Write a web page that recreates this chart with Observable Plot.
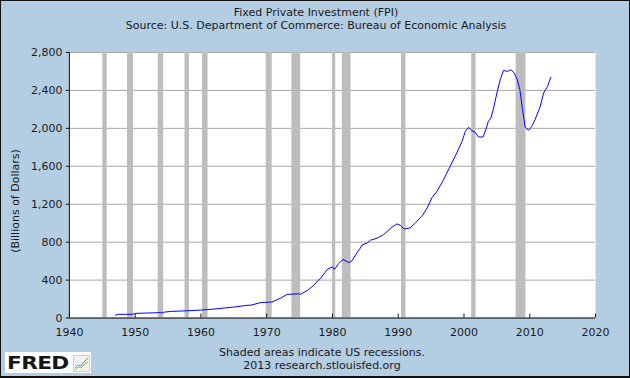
<!DOCTYPE html>
<html>
<head>
<meta charset="utf-8">
<script src="https://cdn.jsdelivr.net/npm/d3@7"></script>
<script src="https://cdn.jsdelivr.net/npm/@observablehq/plot@0.6"></script>
<style>
  html, body { margin: 0; padding: 0; }
  body { width: 630px; height: 378px; overflow: hidden; }
  #wrap { position: relative; width: 630px; height: 378px; box-sizing: border-box;
          background: #b3cde3; border: 1px solid #111; border-bottom-width: 2px;
          font-family: "DejaVu Sans", Verdana, sans-serif; color: #1a1a1a; }
  .t { position: absolute; font-size: 11px; white-space: nowrap; }
  #chart { position: absolute; left: -1px; top: 39px; }
  #ylab { position: absolute; left: 14px; top: 200px; font-size: 11px; white-space: nowrap;
          transform: translate(-50%, -50%) rotate(-90deg); }
  #logo { position: absolute; left: 4px; top: 351px; width: 86px; height: 21px; background: #fff; }
  #fred { position: absolute; left: 2px; top: 0px; font: bold 18px 'DejaVu Sans', sans-serif; color: #161616;
          letter-spacing: -0.5px; transform-origin: 0 0; transform: scaleX(1.2); line-height: 21px; }
</style>
</head>
<body>
<div id="wrap">
  <div class="t" style="left:0;width:630px;text-align:center;top:5px">Fixed Private Investment (FPI)</div>
  <div class="t" style="left:0;width:630px;text-align:center;top:18px">Source: U.S. Department of Commerce: Bureau of Economic Analysis</div>
  <div id="chart"></div>
  <div id="ylab">(Billions of Dollars)</div>
  <div class="t" style="left:0;width:642px;text-align:center;top:345px">Shaded areas indicate US recessions.</div>
  <div class="t" style="left:0;width:642px;text-align:center;top:358px">2013 research.stlouisfed.org</div>
  <div id="logo">
    <span id="fred">FRED</span>
    <svg style="position:absolute;left:68px;top:3px" width="17" height="17" viewBox="0 0 17 17">
      <rect x="0.5" y="0.5" width="16" height="16" fill="#f2f2f2" stroke="#d0d0d0"/>
      <polyline points="2,13 5,10 8,11 11,7 15,3" fill="none" stroke="#6a8fc0" stroke-width="1"/>
      <polyline points="2,15 5,12 8,13 11,10 15,7" fill="none" stroke="#8cbf5a" stroke-width="1"/>
    </svg>
  </div>
</div>
<script>
// Recession periods (decimal years)
const recStart = [1945.08, 1948.83, 1953.5, 1957.58, 1960.25, 1969.92, 1973.83, 1980.0, 1981.5, 1990.5, 2001.17, 2007.92];
const recEnd   = [1945.75, 1949.75, 1954.33, 1958.25, 1961.08, 1970.83, 1975.17, 1980.5, 1982.83, 1991.17, 2001.83, 2009.42];

// Fixed Private Investment, billions of dollars
const years = [1947.0, 1947.4, 1949.7, 1950.0, 1953.3, 1953.8, 1954.0, 1954.4, 1955.4, 1956.9, 1958.9, 1960.0, 1962.0, 1965.0, 1967.0, 1967.6, 1969.1, 1970.8,
  1972.1, 1973.1, 1974.9, 1975.1, 1976.2, 1977.2, 1977.7, 1978.2, 1979.2, 1980.0, 1980.3, 1980.9, 1981.6, 1982.5, 1983.0, 1983.7, 1984.2, 1984.5,
  1985.3, 1985.8, 1986.3, 1987.0, 1987.8, 1988.8, 1989.8, 1990.3, 1990.8, 1991.1, 1991.8, 1992.6, 1993.6, 1994.4, 1995.1, 1995.9, 1996.9, 1997.9,
  1998.9, 1999.7, 2000.2, 2000.7, 2001.2, 2001.7, 2002.2, 2002.9, 2003.4, 2003.7, 2004.1, 2004.5, 2005.0, 2005.5, 2006.0, 2006.6, 2007.1, 2007.6,
  2008.1, 2008.5, 2008.9, 2009.3, 2009.8, 2010.3, 2010.8, 2011.6, 2012.1, 2012.7, 2013.2];
const values = [30, 39, 40, 49, 56, 60, 52, 62, 70, 74, 80, 84, 95, 116, 134, 136, 163, 169,
  210, 249, 256, 249, 291, 347, 389, 418, 512, 540, 512, 572, 618, 585, 605, 687, 734, 770,
  793, 822, 830, 850, 881, 945, 993, 978, 944, 940, 951, 1003, 1074, 1161, 1266, 1337, 1460, 1600,
  1740, 1863, 1968, 2011, 1976, 1958, 1909, 1909, 2004, 2074, 2109, 2214, 2372, 2512, 2611, 2600, 2618, 2589,
  2512, 2407, 2196, 2014, 1979, 2021, 2091, 2232, 2372, 2442, 2540];

const yTicks = [0, 400, 800, 1200, 1600, 2000, 2400, 2800];
const xTicks = [1940, 1950, 1960, 1970, 1980, 1990, 2000, 2010, 2020];

const recessions = recStart.map((s, i) => ({start: s, end: recEnd[i]}));
const fpi = years.map((y, i) => ({year: y, value: values[i]}));

const chart = Plot.plot({
  width: 630,
  height: 300,
  marginTop: 12,
  marginBottom: 22,
  marginLeft: 69,
  marginRight: 34,
  style: {background: "transparent", fontFamily: "'DejaVu Sans', Verdana, sans-serif", fontSize: "11px", color: "#1a1a1a"},
  x: {type: "linear", domain: [1940, 2020]},
  y: {domain: [0, 2800]},
  marks: [
    Plot.frame({fill: "white", stroke: null}),
    Plot.gridY(yTicks, {stroke: "#a8a8a8", strokeOpacity: 1}),
    Plot.rect(recessions, {x1: "start", x2: "end", fill: "#bdbdbd"}),
    Plot.line(fpi, {x: "year", y: "value", stroke: "#0000ff", strokeWidth: 1}),
    Plot.ruleY([0], {stroke: "#111"}),
    Plot.ruleX([1940], {stroke: "#111"}),
    Plot.axisY(yTicks, {tickFormat: d3.format(","), tickSize: 3, tickPadding: 4, label: null, fontSize: 11, stroke: "#111"}),
    Plot.axisX(xTicks, {tickFormat: d3.format("d"), tickSize: -4, tickPadding: 14, label: null, fontSize: 11, stroke: "#111"})
  ]
});
document.getElementById("chart").appendChild(chart);
</script>
</body>
</html>
